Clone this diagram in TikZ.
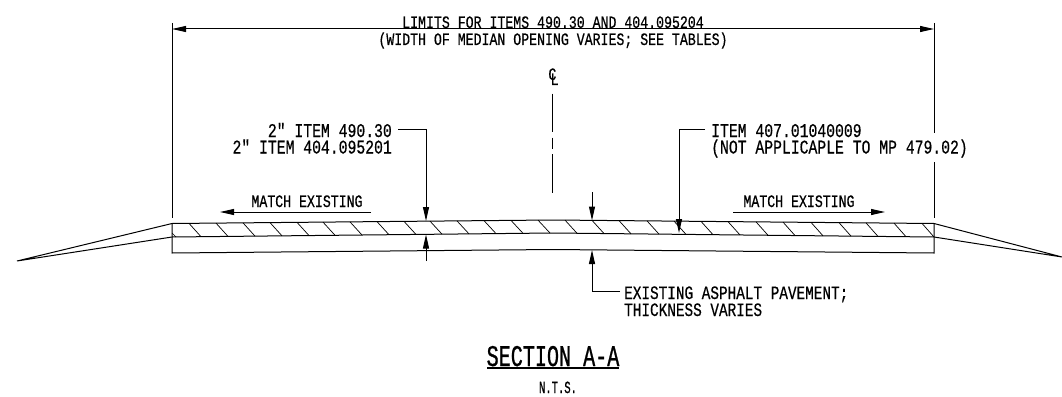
\documentclass[tikz,border=0pt]{standalone}
\usepackage{fontspec}
\newfontfamily\cadfont[FakeStretch=0.76,FakeBold=0.5]{Liberation Mono}
\newfontfamily\cadsec[FakeStretch=0.67,FakeBold=0.8]{Liberation Mono}
\newfontfamily\cadnts[FakeStretch=0.62,FakeBold=0.8]{Liberation Mono}
\usetikzlibrary{arrows.meta}
\tikzset{
  x=1pt,y=-1pt,
  ln/.style={draw=black,line width=1pt},
  thin ln/.style={draw=black,line width=0.7pt},
  tip/.style={-{Triangle[length=14pt,width=6pt]}},
  dtip/.style={{Triangle[length=14pt,width=6pt]}-{Triangle[length=14pt,width=6pt]}},
  lab/.style={inner sep=0pt,anchor=base,font=\cadfont\fontsize{17.4}{17.4}\selectfont,text=black},
  labb/.style={inner sep=0pt,font=\cadfont\fontsize{19.4}{19.4}\selectfont,text=black},
  labe/.style={inner sep=0pt,anchor=base west,font=\cadfont\fontsize{18.9}{18.9}\selectfont,text=black},
}
\begin{document}
\begin{tikzpicture}
\useasboundingbox (0,0) rectangle (1062,396);
\coordinate (TL) at (172,223.5); \coordinate (TC) at (553,220); \coordinate (TR) at (934,223.5);
\coordinate (ML) at (172,237); \coordinate (MC) at (553,233); \coordinate (MR) at (934,237);
\coordinate (BL) at (172,253); \coordinate (BC) at (553,249.5); \coordinate (BR) at (934,253);
\coordinate (FL) at (17,261); \coordinate (FR) at (1062,257);
\draw[ln] (FL)--(TL)--(TC)--(TR)--(FR)--(MR)--(MC)--(ML)--cycle;
\draw[ln] (TL)--(BL)--(BC)--(BR)--(TR);
\foreach \x in {189,216,243,270,297,323,350,377,404,430,457,484,511,538,565,592,619,647,674,701,728,756,783,811,839,866,894,922}{
  \pgfmathsetmacro\yt{220+3.5*abs(\x-553)/381}
  \pgfmathsetmacro\yb{233+4*abs(\x+12-553)/381}
  \draw[thin ln] (\x,\yt)--(\x+12,\yb);
}
\draw[thin ln] (172,233)--(176,237);
\coordinate (E1a) at (172,23); \coordinate (E1b) at (172,218);
\coordinate (E2a) at (934,23); \coordinate (E2b) at (934,133);
\coordinate (E2c) at (934,162); \coordinate (E2d) at (934,218);
\draw[ln] (E1a)--(E1b); \draw[ln] (E2a)--(E2b); \draw[ln] (E2c)--(E2d);
\coordinate (D1) at (172,29); \coordinate (D2) at (934,29);
\draw[ln,dtip] (D1)--(D2);
\node[lab] (t1) at (553,28) {LIMITS FOR ITEMS 490.30 AND 404.095204};
\node[lab] (t2) at (553,45) {(WIDTH OF MEDIAN OPENING VARIES; SEE TABLES)};
\node[lab] (cl) at (553.5,80) {C\kern-5.7pt\raisebox{-5pt}{L}};
\draw[ln] (552.5,93.5)--(552.5,131.5); \draw[ln] (552.5,137.5)--(552.5,149); \draw[ln] (552.5,154)--(552.5,193);
\node[labb,anchor=base east] (a1) at (392,137) {2" ITEM 490.30};
\node[labb,anchor=base east] (a2) at (392,153.5) {2" ITEM 404.095201};
\coordinate (a3) at (398,129); \coordinate (a4) at (426,129); \coordinate (a5) at (426,221);
\draw[ln,tip] (a3)--(a4)--(a5);
\coordinate (b1) at (426,261); \coordinate (b2) at (426,234.5);
\draw[ln,tip] (b1)--(b2);
\coordinate (c1) at (592,192); \coordinate (c2) at (592,220.5);
\draw[ln,tip] (c1)--(c2);
\coordinate (d1) at (620,291); \coordinate (d2) at (592,291); \coordinate (d3) at (592,250);
\draw[ln,tip] (d1)--(d2)--(d3);
\node[labe] (e1) at (624,299) {EXISTING ASPHALT PAVEMENT;};
\node[labe] (e2) at (624,316) {THICKNESS VARIES};
\coordinate (f1) at (705,129); \coordinate (f2) at (679,129); \coordinate (f3) at (679,233);
\draw[ln,tip] (f1)--(f2)--(f3);
\node[labb,anchor=base west] (g1) at (711,137) {ITEM 407.01040009};
\node[labb,anchor=base west] (g2) at (711,153.5) {(NOT APPLICAPLE TO MP 479.02)};
\coordinate (h1) at (371,212); \coordinate (h2) at (220,212);
\draw[ln,tip] (h1)--(h2);
\node[lab] (i1) at (307,207) {MATCH EXISTING};
\coordinate (j1) at (733,212); \coordinate (j2) at (885,212);
\draw[ln,tip] (j1)--(j2);
\node[lab] (k1) at (799,207) {MATCH EXISTING};
\node[inner sep=0pt,anchor=base,font=\cadsec\fontsize{30}{30}\selectfont] (s) at (553,366) {SECTION A-A};
\coordinate (u1) at (487,368); \coordinate (u2) at (619,368);
\draw[draw=black,line width=1.6pt] (u1)--(u2);
\node[inner sep=0pt,anchor=base,font=\cadnts\fontsize{17}{17}\selectfont] (n) at (558,393) {N.T.S.};
\end{tikzpicture}
\end{document}
